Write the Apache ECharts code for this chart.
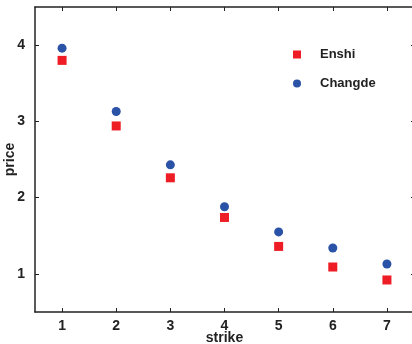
<!DOCTYPE html>
<html>
<head>
<meta charset="utf-8">
<script src="https://cdn.jsdelivr.net/npm/echarts@6/dist/echarts.min.js"></script>
<style>
  html, body { margin: 0; padding: 0; background: #fff; }
  #chart { width: 412px; height: 344px; }
</style>
</head>
<body>
<div id="chart"></div>
<script>
const strikes = [1, 2, 3, 4, 5, 6, 7];
const enshi = [3.80, 2.94, 2.26, 1.74, 1.36, 1.09, 0.92];
const changde = [3.96, 3.13, 2.43, 1.88, 1.55, 1.34, 1.13];
const xTicks = [1, 2, 3, 4, 5, 6, 7];
const yTicks = [1, 2, 3, 4];

const chart = echarts.init(document.getElementById('chart'));
const font = 'Liberation Sans, Arial, sans-serif';

// eixos estilo matlab: caixa com ticks para dentro
function axisBase(extra) {
  return Object.assign({
    type: 'value',
    axisLine: { show: true, onZero: false, lineStyle: { color: '#222', width: 1.5 } },
    axisTick: { show: true, inside: true, length: 4, lineStyle: { color: '#222', width: 1 } },
    splitLine: { show: false },
    axisLabel: { show: false }
  }, extra);
}

const option = {
  animation: false,
  grid: { left: 35, right: -2, top: 7, bottom: 32, containLabel: false, outerBoundsMode: 'none' },
  legend: {
    orient: 'vertical',
    left: 288,
    top: 43,
    itemWidth: 8,
    itemHeight: 8,
    itemGap: 16,
    textStyle: { fontFamily: font, fontWeight: 'bold', fontSize: 13, color: '#222', padding: [0, 0, 0, 14] },
    data: [
      { name: 'Enshi', icon: 'rect' },
      { name: 'Changde', icon: 'circle' }
    ]
  },
  xAxis: [
    axisBase({
      min: 0.5, max: 7.5, position: 'bottom',
      name: 'strike', nameLocation: 'middle', nameGap: 19, nameMoveOverlap: false,
      nameTextStyle: { fontFamily: font, fontWeight: 'bold', fontSize: 14, color: '#222' },
      axisTick: { show: true, inside: true, length: 4, customValues: xTicks, lineStyle: { color: '#222' } },
      axisLabel: { show: true, customValues: xTicks, fontFamily: font, fontWeight: 'bold', fontSize: 14, color: '#222', margin: 7 }
    }),
    axisBase({
      min: 0.5, max: 7.5, position: 'top',
      axisTick: { show: true, inside: true, length: 4, customValues: xTicks, lineStyle: { color: '#222' } }
    })
  ],
  yAxis: [
    axisBase({
      min: 0.5, max: 4.5, position: 'left',
      name: 'price', nameLocation: 'middle', nameGap: 18, nameRotate: 90, nameMoveOverlap: false,
      nameTextStyle: { fontFamily: font, fontWeight: 'bold', fontSize: 14, color: '#222' },
      axisTick: { show: true, inside: true, length: 4, customValues: yTicks, lineStyle: { color: '#222' } },
      axisLabel: { show: true, customValues: yTicks, fontFamily: font, fontWeight: 'bold', fontSize: 14, color: '#222', margin: 10 }
    }),
    axisBase({
      min: 0.5, max: 4.5, position: 'right',
      axisLine: { show: false },
      axisTick: { show: true, inside: true, length: 3, customValues: yTicks, lineStyle: { color: '#222' } }
    })
  ],
  series: [
    {
      name: 'Enshi',
      type: 'scatter',
      symbol: 'rect',
      symbolSize: 9,
      itemStyle: { color: '#ee1c24', opacity: 1 },
      data: strikes.map((s, i) => [s, enshi[i]])
    },
    {
      name: 'Changde',
      type: 'scatter',
      symbol: 'circle',
      symbolSize: 9,
      itemStyle: { color: '#2a52a6', opacity: 1 },
      data: strikes.map((s, i) => [s, changde[i]])
    }
  ]
};

chart.setOption(option);
</script>
</body>
</html>
